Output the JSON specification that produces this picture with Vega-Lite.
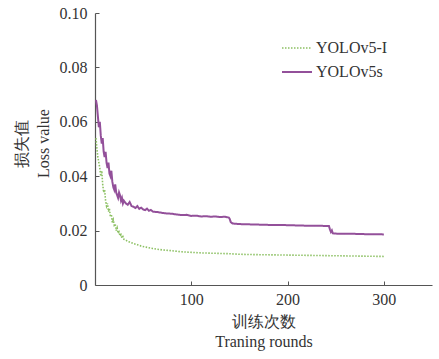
{
  "$schema": "https://vega.github.io/schema/vega-lite/v6.json",
  "width": 337,
  "height": 272,
  "autosize": "none",
  "padding": {"left": 95, "top": 13, "right": 7, "bottom": 74},
  "background": "white",
  "config": {
    "view": {"stroke": null},
    "font": "Liberation Serif, serif",
    "axis": {
      "labelFont": "Liberation Serif, serif",
      "titleFont": "Liberation Serif, serif",
      "labelFontSize": 16,
      "titleFontSize": 16,
      "titleFontWeight": "normal",
      "labelColor": "#333",
      "titleColor": "#333",
      "domainColor": "#555",
      "tickColor": "#555",
      "domainWidth": 1.2,
      "grid": false
    },
    "legend": {
      "labelFont": "Liberation Serif, serif",
      "labelFontSize": 16,
      "labelColor": "#333"
    }
  },
  "data": {
    "values": [
      {"round": 1, "loss": 0.068, "model": "YOLOv5s"},
      {"round": 2, "loss": 0.066, "model": "YOLOv5s"},
      {"round": 3, "loss": 0.062, "model": "YOLOv5s"},
      {"round": 4, "loss": 0.058, "model": "YOLOv5s"},
      {"round": 5, "loss": 0.060, "model": "YOLOv5s"},
      {"round": 6, "loss": 0.055, "model": "YOLOv5s"},
      {"round": 7, "loss": 0.052, "model": "YOLOv5s"},
      {"round": 8, "loss": 0.054, "model": "YOLOv5s"},
      {"round": 9, "loss": 0.049, "model": "YOLOv5s"},
      {"round": 10, "loss": 0.047, "model": "YOLOv5s"},
      {"round": 11, "loss": 0.049, "model": "YOLOv5s"},
      {"round": 12, "loss": 0.045, "model": "YOLOv5s"},
      {"round": 13, "loss": 0.043, "model": "YOLOv5s"},
      {"round": 14, "loss": 0.045, "model": "YOLOv5s"},
      {"round": 15, "loss": 0.041, "model": "YOLOv5s"},
      {"round": 16, "loss": 0.040, "model": "YOLOv5s"},
      {"round": 17, "loss": 0.042, "model": "YOLOv5s"},
      {"round": 18, "loss": 0.038, "model": "YOLOv5s"},
      {"round": 19, "loss": 0.036, "model": "YOLOv5s"},
      {"round": 20, "loss": 0.035, "model": "YOLOv5s"},
      {"round": 21, "loss": 0.037, "model": "YOLOv5s"},
      {"round": 22, "loss": 0.034, "model": "YOLOv5s"},
      {"round": 23, "loss": 0.033, "model": "YOLOv5s"},
      {"round": 24, "loss": 0.032, "model": "YOLOv5s"},
      {"round": 25, "loss": 0.034, "model": "YOLOv5s"},
      {"round": 26, "loss": 0.033, "model": "YOLOv5s"},
      {"round": 27, "loss": 0.031, "model": "YOLOv5s"},
      {"round": 28, "loss": 0.032, "model": "YOLOv5s"},
      {"round": 29, "loss": 0.030, "model": "YOLOv5s"},
      {"round": 30, "loss": 0.031, "model": "YOLOv5s"},
      {"round": 32, "loss": 0.030, "model": "YOLOv5s"},
      {"round": 34, "loss": 0.0295, "model": "YOLOv5s"},
      {"round": 36, "loss": 0.0305, "model": "YOLOv5s"},
      {"round": 38, "loss": 0.029, "model": "YOLOv5s"},
      {"round": 40, "loss": 0.0288, "model": "YOLOv5s"},
      {"round": 42, "loss": 0.0283, "model": "YOLOv5s"},
      {"round": 44, "loss": 0.029, "model": "YOLOv5s"},
      {"round": 46, "loss": 0.028, "model": "YOLOv5s"},
      {"round": 48, "loss": 0.0284, "model": "YOLOv5s"},
      {"round": 50, "loss": 0.0278, "model": "YOLOv5s"},
      {"round": 52, "loss": 0.0275, "model": "YOLOv5s"},
      {"round": 54, "loss": 0.0281, "model": "YOLOv5s"},
      {"round": 56, "loss": 0.0273, "model": "YOLOv5s"},
      {"round": 58, "loss": 0.0276, "model": "YOLOv5s"},
      {"round": 60, "loss": 0.0270, "model": "YOLOv5s"},
      {"round": 65, "loss": 0.0268, "model": "YOLOv5s"},
      {"round": 70, "loss": 0.0265, "model": "YOLOv5s"},
      {"round": 75, "loss": 0.0263, "model": "YOLOv5s"},
      {"round": 80, "loss": 0.0262, "model": "YOLOv5s"},
      {"round": 85, "loss": 0.0259, "model": "YOLOv5s"},
      {"round": 90, "loss": 0.0257, "model": "YOLOv5s"},
      {"round": 95, "loss": 0.0258, "model": "YOLOv5s"},
      {"round": 100, "loss": 0.0254, "model": "YOLOv5s"},
      {"round": 105, "loss": 0.0255, "model": "YOLOv5s"},
      {"round": 110, "loss": 0.0252, "model": "YOLOv5s"},
      {"round": 115, "loss": 0.0253, "model": "YOLOv5s"},
      {"round": 120, "loss": 0.0251, "model": "YOLOv5s"},
      {"round": 125, "loss": 0.0252, "model": "YOLOv5s"},
      {"round": 130, "loss": 0.0250, "model": "YOLOv5s"},
      {"round": 135, "loss": 0.0251, "model": "YOLOv5s"},
      {"round": 139, "loss": 0.0248, "model": "YOLOv5s"},
      {"round": 140, "loss": 0.0242, "model": "YOLOv5s"},
      {"round": 141, "loss": 0.0231, "model": "YOLOv5s"},
      {"round": 143, "loss": 0.0226, "model": "YOLOv5s"},
      {"round": 150, "loss": 0.0224, "model": "YOLOv5s"},
      {"round": 160, "loss": 0.0223, "model": "YOLOv5s"},
      {"round": 170, "loss": 0.0222, "model": "YOLOv5s"},
      {"round": 180, "loss": 0.0221, "model": "YOLOv5s"},
      {"round": 190, "loss": 0.0221, "model": "YOLOv5s"},
      {"round": 200, "loss": 0.0220, "model": "YOLOv5s"},
      {"round": 210, "loss": 0.0219, "model": "YOLOv5s"},
      {"round": 220, "loss": 0.0218, "model": "YOLOv5s"},
      {"round": 230, "loss": 0.0218, "model": "YOLOv5s"},
      {"round": 240, "loss": 0.0217, "model": "YOLOv5s"},
      {"round": 243, "loss": 0.0217, "model": "YOLOv5s"},
      {"round": 244, "loss": 0.0204, "model": "YOLOv5s"},
      {"round": 245, "loss": 0.0195, "model": "YOLOv5s"},
      {"round": 246, "loss": 0.0201, "model": "YOLOv5s"},
      {"round": 247, "loss": 0.0190, "model": "YOLOv5s"},
      {"round": 250, "loss": 0.0189, "model": "YOLOv5s"},
      {"round": 260, "loss": 0.0188, "model": "YOLOv5s"},
      {"round": 270, "loss": 0.0188, "model": "YOLOv5s"},
      {"round": 280, "loss": 0.0187, "model": "YOLOv5s"},
      {"round": 290, "loss": 0.0187, "model": "YOLOv5s"},
      {"round": 300, "loss": 0.0186, "model": "YOLOv5s"},
      {"round": 1, "loss": 0.054, "model": "YOLOv5-I"},
      {"round": 2, "loss": 0.050, "model": "YOLOv5-I"},
      {"round": 3, "loss": 0.047, "model": "YOLOv5-I"},
      {"round": 4, "loss": 0.045, "model": "YOLOv5-I"},
      {"round": 5, "loss": 0.043, "model": "YOLOv5-I"},
      {"round": 6, "loss": 0.040, "model": "YOLOv5-I"},
      {"round": 7, "loss": 0.042, "model": "YOLOv5-I"},
      {"round": 8, "loss": 0.037, "model": "YOLOv5-I"},
      {"round": 9, "loss": 0.034, "model": "YOLOv5-I"},
      {"round": 10, "loss": 0.035, "model": "YOLOv5-I"},
      {"round": 11, "loss": 0.031, "model": "YOLOv5-I"},
      {"round": 12, "loss": 0.029, "model": "YOLOv5-I"},
      {"round": 13, "loss": 0.030, "model": "YOLOv5-I"},
      {"round": 14, "loss": 0.027, "model": "YOLOv5-I"},
      {"round": 15, "loss": 0.028, "model": "YOLOv5-I"},
      {"round": 16, "loss": 0.025, "model": "YOLOv5-I"},
      {"round": 17, "loss": 0.026, "model": "YOLOv5-I"},
      {"round": 18, "loss": 0.023, "model": "YOLOv5-I"},
      {"round": 19, "loss": 0.024, "model": "YOLOv5-I"},
      {"round": 20, "loss": 0.022, "model": "YOLOv5-I"},
      {"round": 21, "loss": 0.0225, "model": "YOLOv5-I"},
      {"round": 22, "loss": 0.020, "model": "YOLOv5-I"},
      {"round": 23, "loss": 0.021, "model": "YOLOv5-I"},
      {"round": 24, "loss": 0.019, "model": "YOLOv5-I"},
      {"round": 25, "loss": 0.0195, "model": "YOLOv5-I"},
      {"round": 26, "loss": 0.018, "model": "YOLOv5-I"},
      {"round": 27, "loss": 0.0185, "model": "YOLOv5-I"},
      {"round": 28, "loss": 0.0172, "model": "YOLOv5-I"},
      {"round": 29, "loss": 0.0178, "model": "YOLOv5-I"},
      {"round": 30, "loss": 0.0168, "model": "YOLOv5-I"},
      {"round": 32, "loss": 0.0165, "model": "YOLOv5-I"},
      {"round": 34, "loss": 0.0160, "model": "YOLOv5-I"},
      {"round": 36, "loss": 0.0158, "model": "YOLOv5-I"},
      {"round": 38, "loss": 0.0155, "model": "YOLOv5-I"},
      {"round": 40, "loss": 0.0152, "model": "YOLOv5-I"},
      {"round": 44, "loss": 0.0148, "model": "YOLOv5-I"},
      {"round": 48, "loss": 0.0143, "model": "YOLOv5-I"},
      {"round": 52, "loss": 0.0140, "model": "YOLOv5-I"},
      {"round": 56, "loss": 0.0137, "model": "YOLOv5-I"},
      {"round": 60, "loss": 0.0134, "model": "YOLOv5-I"},
      {"round": 70, "loss": 0.0129, "model": "YOLOv5-I"},
      {"round": 80, "loss": 0.0126, "model": "YOLOv5-I"},
      {"round": 90, "loss": 0.0122, "model": "YOLOv5-I"},
      {"round": 100, "loss": 0.0120, "model": "YOLOv5-I"},
      {"round": 110, "loss": 0.0118, "model": "YOLOv5-I"},
      {"round": 120, "loss": 0.0117, "model": "YOLOv5-I"},
      {"round": 130, "loss": 0.0116, "model": "YOLOv5-I"},
      {"round": 140, "loss": 0.0115, "model": "YOLOv5-I"},
      {"round": 150, "loss": 0.0113, "model": "YOLOv5-I"},
      {"round": 160, "loss": 0.0112, "model": "YOLOv5-I"},
      {"round": 180, "loss": 0.0111, "model": "YOLOv5-I"},
      {"round": 200, "loss": 0.0110, "model": "YOLOv5-I"},
      {"round": 220, "loss": 0.0109, "model": "YOLOv5-I"},
      {"round": 240, "loss": 0.0108, "model": "YOLOv5-I"},
      {"round": 260, "loss": 0.0107, "model": "YOLOv5-I"},
      {"round": 280, "loss": 0.0106, "model": "YOLOv5-I"},
      {"round": 300, "loss": 0.0105, "model": "YOLOv5-I"}
    ]
  },
  "mark": {"type": "line", "interpolate": "linear"},
  "encoding": {
    "x": {
      "field": "round",
      "type": "quantitative",
      "scale": {"domain": [0, 350], "nice": false},
      "axis": {
        "values": [100, 200, 300],
        "title": ["训练次数", "Traning rounds"],
        "labelFont": "Liberation Serif, serif",
        "titleFont": "Liberation Serif, serif",
        "tickSize": -4,
        "labelPadding": 10,
        "titlePadding": 6,
        "titleLineHeight": 20
      }
    },
    "y": {
      "field": "loss",
      "type": "quantitative",
      "scale": {"domain": [0, 0.1], "nice": false},
      "axis": {
        "values": [0, 0.02, 0.04, 0.06, 0.08, 0.1],
        "labelExpr": "datum.value == 0 ? '0' : format(datum.value, '.2f')",
        "title": ["损失值", "Loss value"],
        "labelFont": "Liberation Serif, serif",
        "titleFont": "Liberation Serif, serif",
        "tickSize": -4,
        "labelPadding": 12,
        "titlePadding": 8,
        "titleLineHeight": 22,
        "titleY": 130
      }
    },
    "color": {
      "field": "model",
      "type": "nominal",
      "scale": {"domain": ["YOLOv5-I", "YOLOv5s"], "range": ["#8cc063", "#93509a"]},
      "legend": {
        "title": null,
        "orient": "none",
        "legendX": 186,
        "legendY": 19,
        "labelFont": "Liberation Serif, serif",
        "symbolType": "stroke",
        "symbolSize": 900,
        "symbolStrokeWidth": 2,
        "rowPadding": -3,
        "labelOffset": 3
      }
    },
    "strokeDash": {
      "field": "model",
      "type": "nominal",
      "scale": {"domain": ["YOLOv5-I", "YOLOv5s"], "range": [[1.5, 1.5], [1, 0]]},
      "legend": null
    },
    "strokeWidth": {
      "field": "model",
      "type": "nominal",
      "scale": {"domain": ["YOLOv5-I", "YOLOv5s"], "range": [1.6, 2]},
      "legend": null
    }
  }
}
